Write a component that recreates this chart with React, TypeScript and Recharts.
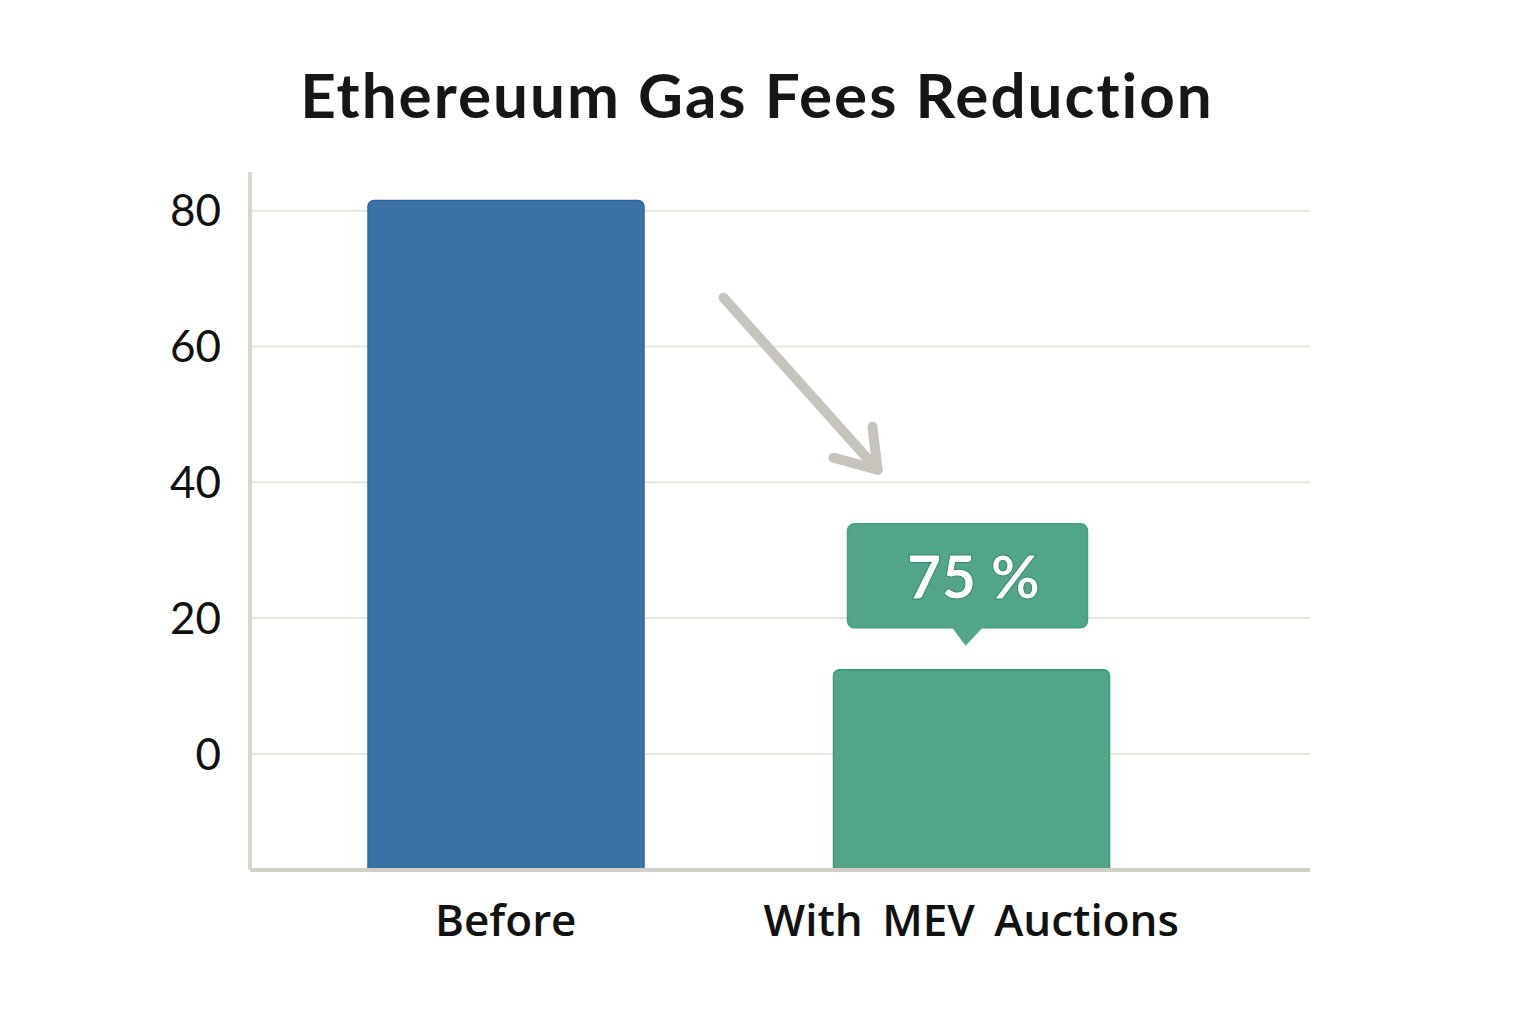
import { BarChart, Bar, XAxis, YAxis, CartesianGrid, LabelList, Cell } from 'recharts';

// values
const categories = ['Before', 'With MEV Auctions'];
const gasFees = [81.5, 12.4];
const barFills = ['#3a72a6', '#52a587'];
const barStrokes = ['#2f63a0', '#40997a'];
const yTicks = [0, 20, 40, 60, 80];
const yDomain: [number, number] = [-17.1, 85.7];
const reductionLabel = '75 %';

// bars start at the bottom of the axis, not at zero
const data = categories.map((name, i) => ({ name, fee: [yDomain[0], gasFees[i]] }));

const Callout = (props: any) => {
  const { x, y, width, index } = props;
  if (index !== 1) return null;
  const cx = x + width / 2 - 4;
  const boxW = 240;
  const boxH = 104;
  const boxBottom = y - 42;
  const tipY = y - 24;
  const arrowTip = { x: x + 44, y: y - 200 };
  return (
    <g>
      <g stroke="#c7c4be" strokeWidth={10} strokeLinecap="round" fill="none">
        <line x1={x - 110} y1={y - 372} x2={arrowTip.x} y2={arrowTip.y} />
        <line x1={x + 39} y1={y - 243} x2={arrowTip.x} y2={arrowTip.y} />
        <line x1={x} y1={y - 212} x2={arrowTip.x} y2={arrowTip.y} />
      </g>
      <rect
        x={cx - boxW / 2}
        y={boxBottom - boxH}
        width={boxW}
        height={boxH}
        rx={7}
        fill="#52a587"
        stroke="#46a07c"
        strokeWidth={1.5}
      />
      <path d={`M ${cx - 16} ${boxBottom - 1} L ${cx + 16} ${boxBottom - 1} L ${cx - 2} ${tipY} Z`} fill="#52a587" />
      <text
        x={cx + 6}
        y={boxBottom - boxH / 2}
        textAnchor="middle"
        dominantBaseline="central"
        fill="#ffffff"
        stroke="#2f8a66"
        strokeWidth={1}
        fontFamily="Lato"
        fontWeight={900}
        fontSize={60}
      >
        {reductionLabel}
      </text>
    </g>
  );
};

export default function App() {
  return (
    <div style={{ position: 'relative', width: 1536, height: 1024, background: '#ffffff' }}>
      <style>{'body{margin:0}'}</style>
      <div
        style={{
          position: 'absolute',
          left: 0,
          top: 63,
          width: 1514,
          textAlign: 'center',
          fontFamily: 'Lato',
          fontWeight: 700,
          fontSize: 62,
          lineHeight: '62px',
          letterSpacing: 2,
          color: '#161616',
        }}
      >
        Ethereuum Gas Fees Reduction
      </div>
      <BarChart
        width={1536}
        height={1024}
        data={data}
        margin={{ top: 172, right: 226, left: 150, bottom: 74 }}
        barSize={276}
      >
        <CartesianGrid vertical={false} horizontalValues={yTicks} stroke="#e9e5dd" strokeWidth={2} />
        <XAxis
          dataKey="name"
          height={80}
          padding={{ left: 23, right: 106 }}
          axisLine={{ stroke: '#d2cfc9', strokeWidth: 4 }}
          tickLine={false}
          tickSize={0}
          tickMargin={35}
          tick={{ fill: '#111111', fontSize: 44, fontFamily: 'Open Sans', fontWeight: 600, style: { wordSpacing: 8 } }}
        />
        <YAxis
          width={100}
          domain={yDomain}
          ticks={yTicks}
          allowDataOverflow
          axisLine={{ stroke: '#d9d6d0', strokeWidth: 4 }}
          tickLine={false}
          tickSize={0}
          tickMargin={29}
          tick={{ fill: '#111111', fontSize: 44, fontFamily: 'Lato' }}
        />
        <Bar dataKey="fee" radius={[6, 6, 0, 0]} isAnimationActive={false} strokeWidth={1.5}>
          {data.map((d, i) => (
            <Cell key={d.name} fill={barFills[i]} stroke={barStrokes[i]} />
          ))}
          <LabelList dataKey="fee" content={Callout} />
        </Bar>
      </BarChart>
    </div>
  );
}
